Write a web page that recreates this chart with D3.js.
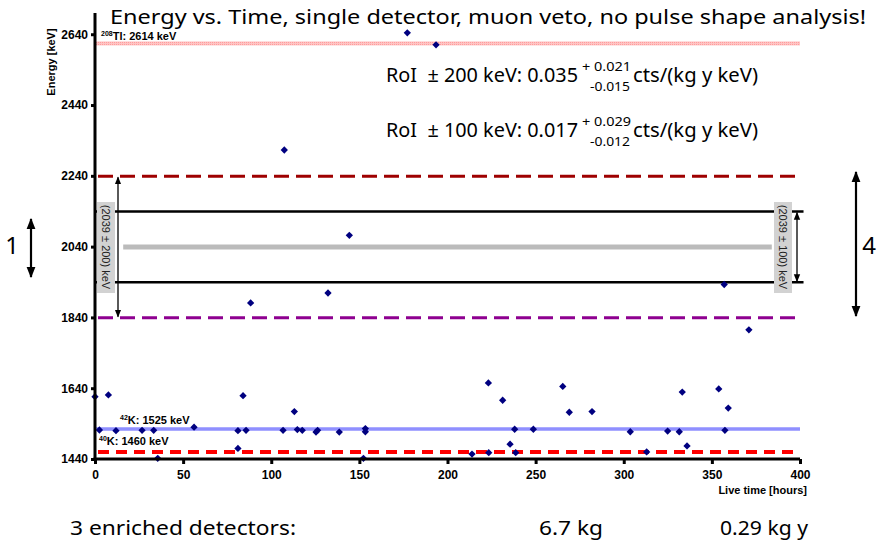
<!DOCTYPE html>
<html>
<head>
<meta charset="utf-8">
<script src="https://cdnjs.cloudflare.com/ajax/libs/d3/7.8.5/d3.min.js"></script>
<style>
  body { margin: 0; background: #fff; }
  svg { display: block; }
  text { white-space: pre; }
  .tick text { font-family: "Liberation Sans", Arial, sans-serif; font-weight: bold; font-size: 12px; }
</style>
</head>
<body>
<div id="chart"></div>
<script>
// live time [hours] and energy [keV] of each event
var timeHours = [0, 7.6, 2.5, 11.9, 26.7, 33.3, 35.6, 56.2, 81.1, 81.1, 84, 85.7,
  106.7, 113.1, 114.8, 117.6, 125.4, 126.3, 138.6, 153.4, 153.4, 152.3,
  223.2, 231.3, 265.4, 269.1, 282, 238.1, 248.7, 235.5, 238.7, 223.4, 213.9,
  303.7, 313, 324.9, 331.5, 333.2, 335.9, 353.9, 359.3, 357.4,
  177.2, 193.5, 107.4, 144.3, 88.3, 132.2, 357, 371];
var energyKeV = [1616, 1621, 1522, 1520, 1521, 1521, 1442, 1530, 1520, 1470, 1619, 1521,
  1521, 1574, 1523, 1521, 1516, 1521, 1516, 1526, 1517, 1442,
  1655, 1606, 1645, 1572, 1574, 1524, 1524, 1482, 1458, 1458, 1454,
  1517, 1460, 1519, 1517, 1629, 1477, 1638, 1584, 1521,
  2644, 2610, 2313, 2072, 1881, 1909, 1933, 1805];

var xTicks = [0, 50, 100, 150, 200, 250, 300, 350, 400];
var yTicks = [1440, 1640, 1840, 2040, 2240, 2440, 2640];

var Qbb = 2039;
var windowWide = 200;
var windowNarrow = 100;
var tlLine = 2614;
var k42Line = 1525;
var k40Line = 1460;

var width = 878, height = 541;
var svg = d3.select("#chart").append("svg").attr("width", width).attr("height", height);

var x = d3.scaleLinear().domain([0, 400]).range([95, 800]);
var y = d3.scaleLinear().domain([1440, 2700]).range([459, 13]);

var defs = svg.append("defs");
function arrowMarker(id, w) {
    defs.append("marker").attr("id", id)
        .attr("viewBox", "0 0 10 10").attr("refX", 9).attr("refY", 5)
        .attr("markerWidth", w).attr("markerHeight", w)
        .attr("markerUnits", "userSpaceOnUse")
        .attr("orient", "auto-start-reverse")
        .append("path").attr("d", "M0,1 L10,5 L0,9 Z").attr("fill", "#000");
}
arrowMarker("arr", 8);
arrowMarker("bigarr", 11);

var tlPattern = defs.append("pattern").attr("id", "tlpat")
    .attr("patternUnits", "userSpaceOnUse").attr("width", 2).attr("height", 2);
tlPattern.append("rect").attr("width", 2).attr("height", 2).attr("fill", "#ffc4c4");
tlPattern.append("rect").attr("width", 1).attr("height", 1).attr("fill", "#ff9c9c");

// reference lines
var x0 = x(0), x1 = x(400);
svg.append("rect").attr("x", x0).attr("y", y(tlLine) - 2).attr("width", x1 - x0).attr("height", 4)
    .attr("fill", "url(#tlpat)");
svg.append("line").attr("x1", x0).attr("x2", x1).attr("y1", y(k42Line)).attr("y2", y(k42Line))
    .attr("stroke", "#8f8fff").attr("stroke-width", 3.5);
svg.append("line").attr("x1", x0 + 3).attr("x2", x1).attr("y1", y(k40Line)).attr("y2", y(k40Line))
    .attr("stroke", "#ff0000").attr("stroke-width", 4).attr("stroke-dasharray", "11,7");
svg.append("line").attr("x1", x0 + 3).attr("x2", x1).attr("y1", y(Qbb + windowWide)).attr("y2", y(Qbb + windowWide))
    .attr("stroke", "#9e0000").attr("stroke-width", 3).attr("stroke-dasharray", "15,7");
svg.append("line").attr("x1", x0 + 3).attr("x2", x1).attr("y1", y(Qbb - windowWide)).attr("y2", y(Qbb - windowWide))
    .attr("stroke", "#8e0090").attr("stroke-width", 3).attr("stroke-dasharray", "15,7");
[Qbb + windowNarrow, Qbb - windowNarrow].forEach(function (e) {
    svg.append("line").attr("x1", x0).attr("x2", x(402)).attr("y1", y(e)).attr("y2", y(e))
        .attr("stroke", "#000").attr("stroke-width", 2.5);
});
svg.append("line").attr("x1", x(16)).attr("x2", x(384)).attr("y1", y(Qbb)).attr("y2", y(Qbb))
    .attr("stroke", "#bbbbbb").attr("stroke-width", 5);

// window arrows and labels
svg.append("line").attr("x1", 118).attr("x2", 118)
    .attr("y1", y(Qbb + windowWide) + 1).attr("y2", y(Qbb - windowWide) - 1)
    .attr("stroke", "#000").attr("stroke-width", 1.3)
    .attr("marker-start", "url(#arr)").attr("marker-end", "url(#arr)");
svg.append("line").attr("x1", 797).attr("x2", 797)
    .attr("y1", y(Qbb + windowNarrow) + 1).attr("y2", y(Qbb - windowNarrow) - 1)
    .attr("stroke", "#000").attr("stroke-width", 1.3)
    .attr("marker-start", "url(#arr)").attr("marker-end", "url(#arr)");

function windowLabel(cx, txt) {
    svg.append("rect").attr("x", cx - 9).attr("y", 202).attr("width", 18).attr("height", 91)
        .attr("fill", "#d2d2d2");
    svg.append("text").attr("transform", "translate(" + (cx - 4) + ",247) rotate(90)")
        .attr("text-anchor", "middle")
        .style("font-family", "Liberation Sans, Arial, sans-serif").style("font-size", "11px")
        .attr("fill", "#222").text(txt);
}
windowLabel(106, "(2039 ± 200) keV");
windowLabel(783, "(2039 ± 100) keV");

// events
svg.append("g").selectAll("path").data(timeHours).enter().append("path")
    .attr("transform", function (d, i) { return "translate(" + x(d) + "," + y(energyKeV[i]) + ")"; })
    .attr("d", d3.symbol(d3.symbolDiamond2).size(34))
    .attr("fill", "#000080");

// axes
var yAxis = svg.append("g").attr("transform", "translate(" + x0 + ",0)")
    .call(d3.axisLeft(y).tickValues(yTicks).tickSize(4).tickPadding(3).tickFormat(d3.format("d")));
yAxis.select(".domain").attr("d", "M0," + y(2700) + "V" + y(1440)).attr("stroke-width", 3);
yAxis.selectAll(".tick line").attr("stroke-width", 3);
var xAxis = svg.append("g").attr("transform", "translate(0," + y(1440) + ")")
    .call(d3.axisBottom(x).tickValues(xTicks).tickSize(5).tickPadding(6));
xAxis.select(".domain").attr("d", "M" + (x0 - 1.5) + ",0H" + x1).attr("stroke-width", 3);
xAxis.selectAll(".tick line").attr("stroke-width", 3);

var boldFont = "Liberation Sans, Arial, sans-serif";
svg.append("text").attr("transform", "translate(55,62) rotate(-90)").attr("text-anchor", "middle")
    .style("font-family", boldFont).style("font-weight", "bold").style("font-size", "11px")
    .text("Energy [keV]");
svg.append("text").attr("x", 807).attr("y", 494).attr("text-anchor", "end")
    .style("font-family", boldFont).style("font-weight", "bold").style("font-size", "11px")
    .text("Live time [hours]");

// line labels
function lineLabel(lx, ly, sup, rest) {
    var t = svg.append("text").attr("x", lx).attr("y", ly)
        .style("font-family", boldFont).style("font-weight", "bold").style("font-size", "11px");
    t.append("tspan").attr("dy", -4).style("font-size", "7px").text(sup);
    t.append("tspan").attr("dy", 4).text(rest);
}
lineLabel(101, 40, "208", "Tl: 2614 keV");
lineLabel(120, 424, "42", "K: 1525 keV");
lineLabel(99, 445, "40", "K: 1460 keV");

// title and annotations
var sans = "Noto Sans, Open Sans, sans-serif";
svg.append("text").attr("x", 110).attr("y", 24).attr("textLength", 756).attr("lengthAdjust", "spacingAndGlyphs")
    .style("font-family", sans).style("font-size", "20px")
    .text("Energy vs. Time, single detector, muon veto, no pulse shape analysis!");

function roiLine(by, main, sup, sub) {
    svg.append("text").attr("x", 386).attr("y", by).attr("textLength", 192).attr("lengthAdjust", "spacingAndGlyphs")
        .style("font-family", sans).style("font-size", "19px").text(main);
    svg.append("text").attr("x", 582).attr("y", by - 11).attr("textLength", 49).attr("lengthAdjust", "spacingAndGlyphs")
        .style("font-family", sans).style("font-size", "13px").text(sup);
    svg.append("text").attr("x", 590).attr("y", by + 9).attr("textLength", 40).attr("lengthAdjust", "spacingAndGlyphs")
        .style("font-family", sans).style("font-size", "13px").text(sub);
    svg.append("text").attr("x", 633).attr("y", by).attr("textLength", 125).attr("lengthAdjust", "spacingAndGlyphs")
        .style("font-family", sans).style("font-size", "19px").text("cts/(kg y keV)");
}
roiLine(82, "RoI  ± 200 keV: 0.035", "+ 0.021", "-0.015");
roiLine(137, "RoI  ± 100 keV: 0.017", "+ 0.029", "-0.012");

// side arrows
svg.append("line").attr("x1", 31).attr("x2", 31).attr("y1", 219).attr("y2", 277)
    .attr("stroke", "#000").attr("stroke-width", 2.2)
    .attr("marker-start", "url(#bigarr)").attr("marker-end", "url(#bigarr)");
svg.append("text").attr("x", 12).attr("y", 254).attr("text-anchor", "middle")
    .style("font-family", sans).style("font-size", "24px").text("1");
svg.append("line").attr("x1", 856).attr("x2", 856).attr("y1", 172).attr("y2", 316)
    .attr("stroke", "#000").attr("stroke-width", 2.2)
    .attr("marker-start", "url(#bigarr)").attr("marker-end", "url(#bigarr)");
svg.append("text").attr("x", 869).attr("y", 254).attr("text-anchor", "middle")
    .style("font-family", sans).style("font-size", "24px").text("4");

// bottom line
svg.append("text").attr("x", 70).attr("y", 535).attr("textLength", 226).attr("lengthAdjust", "spacingAndGlyphs")
    .style("font-family", sans).style("font-size", "20px").text("3 enriched detectors:");
svg.append("text").attr("x", 539).attr("y", 535).attr("textLength", 64).attr("lengthAdjust", "spacingAndGlyphs")
    .style("font-family", sans).style("font-size", "20px").text("6.7 kg");
svg.append("text").attr("x", 720).attr("y", 535).attr("textLength", 88).attr("lengthAdjust", "spacingAndGlyphs")
    .style("font-family", sans).style("font-size", "20px").text("0.29 kg y");
</script>
</body>
</html>
